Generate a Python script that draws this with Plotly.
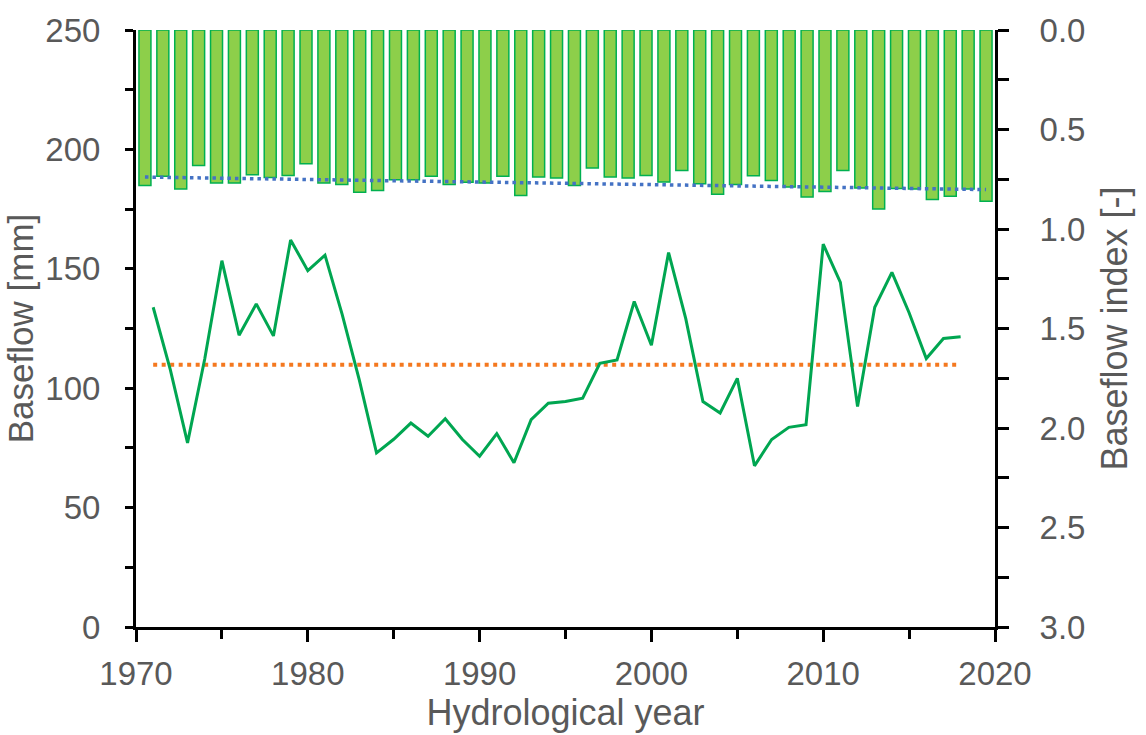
import plotly.graph_objects as go
import numpy as np

years = list(range(1971, 2019))

baseflow_mm = [
    133.9, 107.7, 77.1, 112.2, 153.4, 122.2, 135.3, 121.9, 162.1, 149.2,
    155.7, 130.9, 103.4, 72.9, 78.6, 85.4, 79.9, 87.2, 78.5, 71.5,
    81.0, 68.8, 86.8, 93.7, 94.4, 95.8, 110.4, 111.8, 136.3, 118.0,
    156.8, 129.1, 94.4, 89.6, 104.1, 67.5, 78.5, 83.6, 84.7, 160.3,
    144.3, 92.3, 133.9, 148.5, 131.6, 112.4, 120.8, 121.5,
]

bfi = [
    0.782, 0.735, 0.799, 0.681, 0.769, 0.769, 0.727, 0.741, 0.731, 0.672,
    0.769, 0.777, 0.815, 0.807, 0.752, 0.752, 0.735, 0.777, 0.765, 0.769,
    0.735, 0.832, 0.739, 0.744, 0.782, 0.694, 0.739, 0.744, 0.731, 0.764,
    0.706, 0.772, 0.825, 0.777, 0.732, 0.756, 0.789, 0.839, 0.811, 0.706,
    0.794, 0.899, 0.797, 0.799, 0.852, 0.835, 0.799, 0.860,
]

bfi_trend_years = [1971, 2018]
bfi_trend_values = [0.739, 0.802]

mean_years = [1971, 2018]
mean_mm = float(np.mean(baseflow_mm))

FONT = "Liberation Sans, Arial, sans-serif"
GREY = "#595959"
TICKFONT = dict(family=FONT, size=33, color=GREY)

fig = go.Figure()

fig.add_trace(go.Bar(
    x=years, y=bfi, base=0, xaxis="x2", yaxis="y2",
    marker=dict(color="#8dcf4a", line=dict(color="#00b050", width=1.5)),
    showlegend=False,
))

fig.add_trace(go.Scatter(
    x=bfi_trend_years, y=bfi_trend_values, xaxis="x2", yaxis="y2",
    mode="lines", line=dict(color="#4472c4", width=3.5, dash="3.5px,4px"),
    showlegend=False,
))

fig.add_trace(go.Scatter(
    x=mean_years, y=[mean_mm, mean_mm], mode="lines",
    line=dict(color="#f4781f", width=4, dash="4px,4.5px"),
    showlegend=False,
))

fig.add_trace(go.Scatter(
    x=years, y=baseflow_mm, mode="lines",
    line=dict(color="#00a651", width=3),
    showlegend=False,
))

axis_common = dict(
    showgrid=False, zeroline=False, showline=True, linecolor="black",
    linewidth=3, ticks="outside", tickcolor="black", tickwidth=2.5,
    tickfont=TICKFONT,
)

fig.update_layout(
    width=1146, height=735,
    margin=dict(l=136, r=151, t=25, b=108),
    paper_bgcolor="white", plot_bgcolor="white",
    bargap=0.33,
    xaxis=dict(
        range=[1970, 2020], dtick=10, tick0=1970, ticklen=12,
        minor=dict(dtick=5, ticklen=9, ticks="outside", tickcolor="black", tickwidth=2.5),
        title=dict(text="Hydrological year",
                   font=dict(family=FONT, size=36, color=GREY), standoff=4),
        ticklabelstandoff=3,
        **axis_common,
    ),
    xaxis2=dict(
        range=[1970.5, 2018.5], overlaying="x", visible=False,
    ),
    yaxis=dict(
        range=[0, 250], dtick=50, ticklen=8,
        minor=dict(dtick=25, ticklen=8, ticks="outside", tickcolor="black", tickwidth=2.5),
        title=dict(text="Baseflow [mm]",
                   font=dict(family=FONT, size=35, color=GREY), standoff=2),
        ticklabelstandoff=18,
        **axis_common,
    ),
    yaxis2=dict(
        range=[3, 0], dtick=0.5, tickformat=".1f", ticklen=11,
        overlaying="y", side="right", anchor="x",
        minor=dict(dtick=0.25, ticklen=11, ticks="outside", tickcolor="black", tickwidth=2.5),
        title=dict(text="Baseflow index [-]",
                   font=dict(family=FONT, size=36, color=GREY), standoff=18),
        ticklabelstandoff=24,
        **axis_common,
    ),
)

fig.write_html("out.html")
